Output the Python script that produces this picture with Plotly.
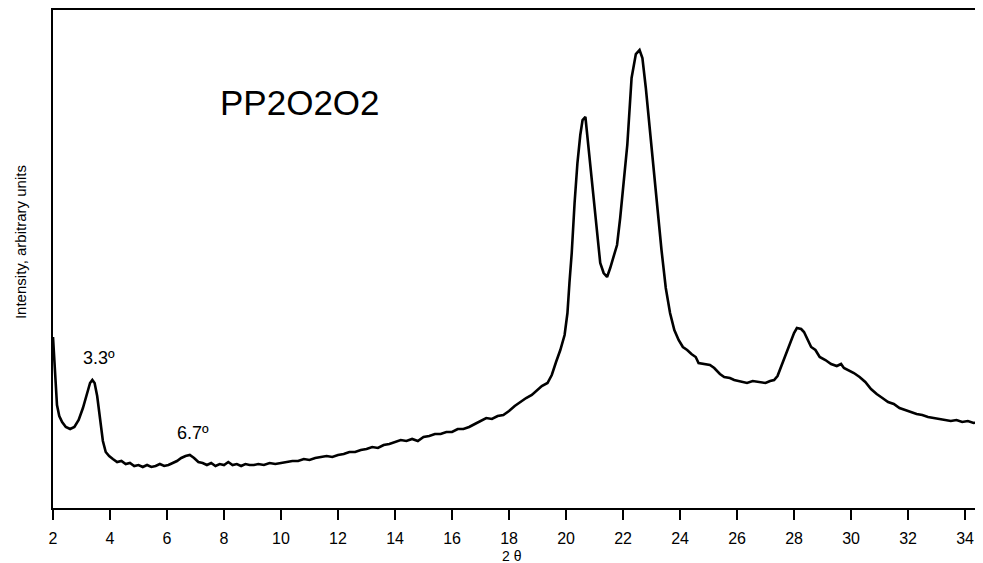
import plotly.graph_objects as go

# 2-theta (degrees) and intensity (arbitrary units)
two_theta = [
    2.00, 2.04, 2.08, 2.14, 2.22, 2.32, 2.45, 2.60, 2.75, 2.90,
    3.05, 3.18, 3.30, 3.38, 3.46, 3.55, 3.65, 3.75, 3.85, 3.97,
    4.10, 4.25, 4.40, 4.55, 4.70, 4.85, 5.00, 5.15, 5.30, 5.45,
    5.60, 5.75, 5.90, 6.05, 6.20, 6.35, 6.50, 6.65, 6.80, 6.95,
    7.10, 7.25, 7.40, 7.55, 7.70, 7.85, 8.00, 8.15, 8.30, 8.45,
    8.60, 8.75, 8.90, 9.05, 9.20, 9.40, 9.60, 9.80, 10.00, 10.20,
    10.40, 10.60, 10.80, 11.00, 11.20, 11.40, 11.60, 11.80, 12.00, 12.20,
    12.40, 12.60, 12.80, 13.00, 13.20, 13.40, 13.60, 13.80, 14.00, 14.20,
    14.40, 14.60, 14.80, 15.00, 15.20, 15.40, 15.60, 15.80, 16.00, 16.20,
    16.40, 16.60, 16.80, 17.00, 17.20, 17.40, 17.60, 17.80, 18.00, 18.20,
    18.40, 18.60, 18.80, 19.00, 19.15, 19.35, 19.50, 19.65, 19.80, 19.95,
    20.05, 20.12, 20.20, 20.30, 20.40, 20.50, 20.58, 20.68, 20.78, 20.90,
    21.00, 21.10, 21.20, 21.32, 21.44, 21.55, 21.65, 21.79, 21.90, 22.00,
    22.15, 22.30, 22.45, 22.58, 22.68, 22.80, 22.95, 23.10, 23.25, 23.35,
    23.50, 23.65, 23.80, 23.95, 24.10, 24.25, 24.40, 24.55, 24.65, 24.80,
    25.05, 25.20, 25.40, 25.55, 25.75, 25.90, 26.10, 26.35, 26.55, 26.80,
    27.00, 27.16, 27.30, 27.42, 27.55, 27.70, 27.85, 28.00, 28.10, 28.25,
    28.35, 28.50, 28.60, 28.75, 28.90, 29.10, 29.30, 29.50, 29.65, 29.75,
    29.90, 30.10, 30.30, 30.50, 30.70, 30.90, 31.10, 31.30, 31.50, 31.70,
    31.90, 32.10, 32.30, 32.50, 32.70, 32.90, 33.10, 33.30, 33.50, 33.70,
    33.90, 34.10, 34.30, 34.50, 34.63,
]
intensity = [
    171, 148, 123, 103, 92, 86, 81, 79, 81, 88,
    100, 114, 125, 128, 125, 112, 88, 67, 56, 52,
    49, 46, 47, 44, 45, 42, 43, 41, 43, 41,
    42, 44, 42, 43, 45, 47, 50, 52, 53, 50,
    46, 45, 43, 45, 42, 44, 43, 46, 43, 44,
    42, 44, 43, 43, 44, 43, 45, 44, 45, 46,
    47, 47, 49, 48, 50, 51, 52, 51, 53, 54,
    56, 56, 58, 59, 61, 60, 63, 64, 66, 68,
    67, 69, 67, 71, 72, 74, 74, 76, 76, 79,
    79, 81, 84, 87, 90, 89, 92, 93, 97, 102,
    106, 110, 113, 118, 122, 125, 133, 146, 158, 173,
    195, 225, 255, 305, 345, 373, 388, 391, 362, 328,
    300, 268, 245, 235, 231, 240, 250, 263, 290, 320,
    363, 430, 454, 458, 450, 420, 375, 335, 290, 258,
    220, 195, 178, 168, 161, 158, 154, 151, 145, 144,
    143, 140, 134, 131, 130, 128, 127, 125, 127, 126,
    125, 127, 128, 132, 142, 154, 165, 175, 180, 179,
    176, 166, 161, 158, 151, 148, 144, 142, 144, 140,
    138, 135, 131, 126, 119, 114, 110, 106, 104, 100,
    98, 96, 94, 93, 91, 90, 89, 88, 87, 88,
    86, 87, 85, 86, 85,
]

x_ticks = [2, 4, 6, 8, 10, 12, 14, 16, 18, 20, 22, 24, 26, 28, 30, 32, 34]

sample_name = "PP2O2O2"
peak_labels = [("3.3º", 3.61, 150), ("6.7º", 6.91, 75)]

FONT = "Liberation Sans, Arial, Helvetica, sans-serif"

fig = go.Figure()
fig.add_trace(go.Scatter(
    x=two_theta, y=intensity, mode="lines",
    line=dict(color="black", width=2.6, shape="linear"),
    showlegend=False, hoverinfo="skip",
))

annotations = [
    dict(text=sample_name, x=10.67, y=406, xref="x", yref="y",
         showarrow=False, font=dict(family=FONT, size=35, color="black"),
         xanchor="center", yanchor="middle"),
    dict(text="2 θ", x=18.1, y=-0.097, xref="x", yref="paper",
         showarrow=False, font=dict(family=FONT, size=14, color="black"),
         xanchor="center", yanchor="middle"),
    dict(text="Intensity, arbitrary units", x=-0.0355, y=0.534,
         xref="paper", yref="paper", textangle=-90, showarrow=False,
         font=dict(family=FONT, size=15, color="black"),
         xanchor="center", yanchor="middle"),
]
for txt, px, py in peak_labels:
    annotations.append(dict(text=txt, x=px, y=py, xref="x", yref="y",
                            showarrow=False,
                            font=dict(family=FONT, size=18, color="black"),
                            xanchor="center", yanchor="middle"))

# the page body adds an 8px offset, so the figure is 8px smaller
fig.update_layout(
    width=975, height=555,
    margin=dict(l=45, r=0, t=2, b=55),
    paper_bgcolor="white", plot_bgcolor="white",
    font=dict(family=FONT, size=16, color="black"),
    annotations=annotations,
    xaxis=dict(
        range=[2, 34.63], tickmode="array", tickvals=x_ticks,
        ticktext=[str(t) for t in x_ticks],
        ticks="outside", ticklen=10, tickwidth=1.5, tickcolor="black",
        ticklabelstandoff=5,
        showline=True, linecolor="black", linewidth=1.5, mirror=True,
        showgrid=False, zeroline=False,
        tickfont=dict(family=FONT, size=16, color="black"),
    ),
    yaxis=dict(
        range=[0, 498], showticklabels=False, ticks="",
        showline=True, linecolor="black", linewidth=1.5, mirror=False,
        showgrid=False, zeroline=False,
    ),
)

fig.write_html("out.html")
